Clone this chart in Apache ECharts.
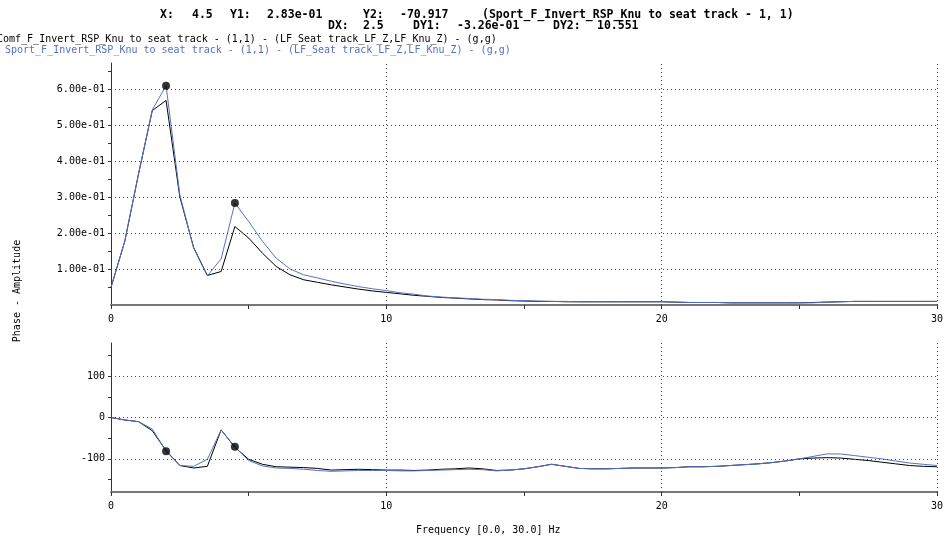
<!DOCTYPE html>
<html>
<head>
<meta charset="utf-8">
<script src="https://cdn.jsdelivr.net/npm/echarts@6/dist/echarts.min.js"></script>
<style>
  html, body { margin: 0; padding: 0; background: #fff; }
  #chart { width: 946px; height: 537px; }
</style>
</head>
<body>
<div id="chart"></div>
<script>
// frequency samples (Hz)
var freq = [0, 0.5, 1, 1.5, 2, 2.5, 3, 3.5, 4, 4.5, 5, 5.5, 6, 6.5, 7, 7.5, 8, 8.5, 9, 9.5,
  10, 10.5, 11, 11.5, 12, 12.5, 13, 13.5, 14, 14.5, 15, 15.5, 16, 16.5, 17, 17.5, 18, 18.5, 19, 19.5,
  20, 20.5, 21, 21.5, 22, 22.5, 23, 23.5, 24, 24.5, 25, 25.5, 26, 26.5, 27, 27.5, 28, 28.5, 29, 29.5, 30];

// amplitude (g/g)
var comfAmp = [0.049, 0.177, 0.364, 0.540, 0.568, 0.300, 0.160, 0.082, 0.093, 0.218,
  0.186, 0.144, 0.107, 0.084, 0.070, 0.063, 0.056, 0.050, 0.044, 0.039,
  0.035, 0.031, 0.027, 0.024, 0.021, 0.019, 0.017, 0.015, 0.014, 0.012,
  0.011, 0.010, 0.010, 0.009, 0.009, 0.009, 0.009, 0.009, 0.009, 0.009,
  0.009, 0.008, 0.007, 0.007, 0.007, 0.006, 0.006, 0.006, 0.006, 0.006,
  0.006, 0.007, 0.008, 0.009, 0.010, 0.010, 0.010, 0.010, 0.010, 0.010, 0.010];
var sportAmp = [0.049, 0.177, 0.364, 0.542, 0.609, 0.306, 0.158, 0.081, 0.128, 0.283,
  0.232, 0.177, 0.130, 0.100, 0.084, 0.075, 0.066, 0.058, 0.051, 0.045,
  0.040, 0.034, 0.030, 0.025, 0.022, 0.020, 0.018, 0.016, 0.015, 0.013,
  0.012, 0.011, 0.010, 0.010, 0.009, 0.009, 0.009, 0.009, 0.009, 0.009,
  0.009, 0.008, 0.007, 0.007, 0.007, 0.006, 0.006, 0.006, 0.006, 0.006,
  0.006, 0.006, 0.008, 0.009, 0.010, 0.010, 0.010, 0.010, 0.010, 0.010, 0.010];

// phase (deg)
var comfPhase = [0, -6, -10, -32, -80, -116, -122, -118, -30, -72,
  -101, -113, -119, -120, -121, -123, -127, -126, -125, -126,
  -127, -127, -128, -127, -125, -124, -122, -124, -128, -127,
  -124, -119, -113, -118, -123, -124, -124, -123, -122, -122,
  -122, -121, -119, -119, -118, -116, -114, -112, -109, -105,
  -100, -98, -97, -98, -101, -104, -108, -112, -116, -118, -119];
var sportPhase = [0, -6, -10, -28, -81.5, -116, -118, -101, -30, -70.9,
  -104, -117, -122, -123, -125, -128, -130, -129, -128, -128,
  -128, -129, -129, -128, -127, -126, -125, -126, -129, -127,
  -124, -119, -113, -118, -123, -124, -124, -123, -122, -122,
  -122, -121, -119, -119, -118, -116, -114, -112, -109, -105,
  -100, -94, -88, -88, -92, -96, -100, -105, -110, -113, -116];

// cursors
var cursorX = [2.0, 4.5];
var cursorAmp = [0.609, 0.283];
var cursorPhase = [-81.468, -70.917];

// ticks
var xLabelTicks = [0, 10, 20, 30];
var xGrid = [10, 20, 30];
var xTicks = [0, 5, 10, 15, 20, 25, 30];
var ampLabels = [0.1, 0.2, 0.3, 0.4, 0.5, 0.6];
var ampTicks = [0.05, 0.1, 0.15, 0.2, 0.25, 0.3, 0.35, 0.4, 0.45, 0.5, 0.55, 0.6, 0.65];
var phaseLabels = [-100, 0, 100];
var phaseTicks = [-150, -100, -50, 0, 50, 100, 150];

var FONT = '"DejaVu Sans Mono", monospace';
var BLUE = '#5472c4';
var DOT = [1, 3];

function expFmt(v) {
  var s = v.toExponential(2).split('e');
  var e = parseInt(s[1], 10);
  var sign = e < 0 ? '-' : '+';
  var a = Math.abs(e);
  return s[0] + 'e' + sign + (a < 10 ? '0' + a : a);
}

function pairs(xs, ys) {
  return xs.map(function (x, i) { return [x, ys[i]]; });
}

// dotted grid drawn as mark lines so it only sits on labelled values
function gridLines(yVals) {
  var d = yVals.map(function (v) { return { yAxis: v }; });
  xGrid.forEach(function (v) { d.push({ xAxis: v }); });
  return {
    silent: true,
    symbol: ['none', 'none'],
    label: { show: false },
    animation: false,
    lineStyle: { type: DOT, color: '#444', width: 1 },
    data: d
  };
}

function xAxisOf(idx) {
  return {
    type: 'value', gridIndex: idx, min: 0, max: 30, interval: 10,
    axisLine: { onZero: false, lineStyle: { color: '#777', width: 2 } },
    axisTick: { show: true, length: 4, customValues: xTicks, lineStyle: { color: '#333' } },
    axisLabel: { color: '#000', fontFamily: FONT, fontSize: 10, margin: 9, customValues: xLabelTicks },
    splitLine: { show: false }
  };
}

var chart = echarts.init(document.getElementById('chart'));
chart.setOption({
  animation: false,
  grid: [
    { left: 111, right: 5, top: 63, height: 242 },
    { left: 111, right: 5, top: 343, height: 149 }
  ],
  xAxis: [xAxisOf(0), xAxisOf(1)],
  yAxis: [
    {
      type: 'value', gridIndex: 0, min: 0, max: 0.672,
      axisLine: { show: true, onZero: false, lineStyle: { color: '#333', width: 1 } },
      axisTick: { show: true, length: 3, customValues: ampTicks, lineStyle: { color: '#333' } },
      axisLabel: { color: '#000', fontFamily: FONT, fontSize: 10, margin: 6, customValues: ampLabels,
        formatter: function (v) { return expFmt(v); } },
      splitLine: { show: false }
    },
    {
      type: 'value', gridIndex: 1, min: -180, max: 180,
      axisLine: { show: true, onZero: false, lineStyle: { color: '#333', width: 1 } },
      axisTick: { show: true, length: 3, customValues: phaseTicks, lineStyle: { color: '#333' } },
      axisLabel: { color: '#000', fontFamily: FONT, fontSize: 10, margin: 6, customValues: phaseLabels },
      splitLine: { show: false }
    }
  ],
  series: [
    {
      type: 'line', xAxisIndex: 0, yAxisIndex: 0, data: pairs(freq, comfAmp),
      symbol: 'none', lineStyle: { color: '#000', width: 1 }, markLine: gridLines(ampLabels)
    },
    {
      type: 'line', xAxisIndex: 0, yAxisIndex: 0, data: pairs(freq, sportAmp),
      symbol: 'none', lineStyle: { color: BLUE, width: 1 }
    },
    {
      type: 'scatter', xAxisIndex: 0, yAxisIndex: 0, data: pairs(cursorX, cursorAmp),
      symbol: 'circle', symbolSize: 8, itemStyle: { color: '#000' }, z: 5
    },
    {
      type: 'line', xAxisIndex: 1, yAxisIndex: 1, data: pairs(freq, comfPhase),
      symbol: 'none', lineStyle: { color: '#000', width: 1 }, markLine: gridLines(phaseLabels)
    },
    {
      type: 'line', xAxisIndex: 1, yAxisIndex: 1, data: pairs(freq, sportPhase),
      symbol: 'none', lineStyle: { color: BLUE, width: 1 }
    },
    {
      type: 'scatter', xAxisIndex: 1, yAxisIndex: 1, data: pairs(cursorX, cursorPhase),
      symbol: 'circle', symbolSize: 8, itemStyle: { color: '#000' }, z: 5
    }
  ],
  graphic: [
    // cursor readout
    { type: 'text', x: 160, y: 15, style: { text: 'X:', font: 'bold 11.5px ' + FONT, fill: '#000', verticalAlign: 'middle' } },
    { type: 'text', x: 192, y: 15, style: { text: '4.5', font: 'bold 11.5px ' + FONT, fill: '#000', verticalAlign: 'middle' } },
    { type: 'text', x: 230, y: 15, style: { text: 'Y1:', font: 'bold 11.5px ' + FONT, fill: '#000', verticalAlign: 'middle' } },
    { type: 'text', x: 267, y: 15, style: { text: '2.83e-01', font: 'bold 11.5px ' + FONT, fill: '#000', verticalAlign: 'middle' } },
    { type: 'text', x: 363, y: 15, style: { text: 'Y2:', font: 'bold 11.5px ' + FONT, fill: '#000', verticalAlign: 'middle' } },
    { type: 'text', x: 400, y: 15, style: { text: '-70.917', font: 'bold 11.5px ' + FONT, fill: '#000', verticalAlign: 'middle' } },
    { type: 'text', x: 482, y: 15, style: { text: '(Sport_F_Invert_RSP_Knu to seat track - 1, 1)', font: 'bold 11.5px ' + FONT, fill: '#000', verticalAlign: 'middle' } },
    { type: 'text', x: 328, y: 26, style: { text: 'DX:', font: 'bold 11.5px ' + FONT, fill: '#000', verticalAlign: 'middle' } },
    { type: 'text', x: 363, y: 26, style: { text: '2.5', font: 'bold 11.5px ' + FONT, fill: '#000', verticalAlign: 'middle' } },
    { type: 'text', x: 413, y: 26, style: { text: 'DY1:', font: 'bold 11.5px ' + FONT, fill: '#000', verticalAlign: 'middle' } },
    { type: 'text', x: 457, y: 26, style: { text: '-3.26e-01', font: 'bold 11.5px ' + FONT, fill: '#000', verticalAlign: 'middle' } },
    { type: 'text', x: 553, y: 26, style: { text: 'DY2:', font: 'bold 11.5px ' + FONT, fill: '#000', verticalAlign: 'middle' } },
    { type: 'text', x: 597, y: 26, style: { text: '10.551', font: 'bold 11.5px ' + FONT, fill: '#000', verticalAlign: 'middle' } },
    // legend lines
    { type: 'text', x: -3, y: 39, style: { text: 'Comf_F_Invert_RSP_Knu to seat track - (1,1) - (LF_Seat track_LF_Z,LF_Knu_Z) - (g,g)', font: '10px ' + FONT, fill: '#000', verticalAlign: 'middle' } },
    { type: 'text', x: 5, y: 50, style: { text: 'Sport_F_Invert_RSP_Knu to seat track - (1,1) - (LF_Seat track_LF_Z,LF_Knu_Z) - (g,g)', font: '10px ' + FONT, fill: BLUE, verticalAlign: 'middle' } },
    // axis names
    { type: 'text', x: 416, y: 530, style: { text: 'Frequency [0.0, 30.0] Hz', font: '10px ' + FONT, fill: '#000', verticalAlign: 'middle' } },
    { type: 'text', x: 17, y: 291, rotation: Math.PI / 2, style: { text: 'Phase - Amplitude', font: '10px ' + FONT, fill: '#000', align: 'center', verticalAlign: 'middle' } }
  ]
});
</script>
</body>
</html>
